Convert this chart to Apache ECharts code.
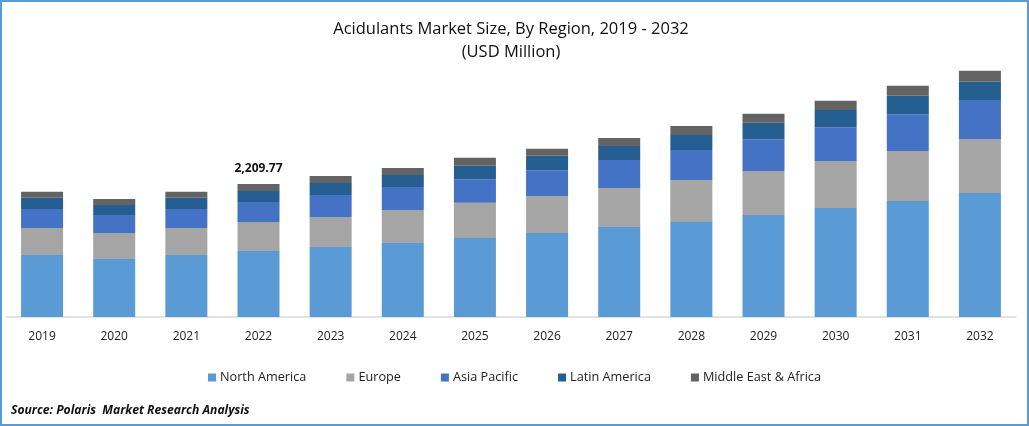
<!DOCTYPE html>
<html>
<head>
<meta charset="utf-8">
<title>Acidulants Market Size</title>
<style>
  html, body { margin: 0; padding: 0; background: #fff; }
  #chart { width: 1029px; height: 426px; }
</style>
<script src="https://cdn.jsdelivr.net/npm/echarts@6/dist/echarts.min.js"></script>
</head>
<body>
<div id="chart"></div>
<script>
// values, USD million
const years = ['2019', '2020', '2021', '2022', '2023', '2024', '2025', '2026', '2027', '2028', '2029', '2030', '2031', '2032'];
const northAmerica = [1030, 964, 1030, 1096.5, 1163, 1230, 1313, 1396, 1495, 1578, 1695, 1811, 1927, 2060];
const europe = [449, 432, 449, 481.8, 498, 548, 582, 615, 648, 698, 731, 781, 831, 897];
const asiaPacific = [316, 299, 316, 332.3, 366, 382, 393, 426, 465, 498, 526, 559, 609, 648];
const latinAmerica = [183, 166, 183, 182.8, 199, 199, 222, 239, 233, 249, 272, 288, 305, 299];
const middleEastAfrica = [100, 100, 100, 116.37, 116, 116, 133, 116, 133, 150, 150, 150, 166, 183];
const labelledYear = '2022';
const labelledTotal = '2,209.77';

const FONT = '"Open Sans", "Noto Sans", sans-serif';

function bar(name, values, color) {
    return {
        name: name,
        type: 'bar',
        stack: 'total',
        barWidth: 42,
        data: values,
        itemStyle: { color: color },
        emphasis: { disabled: true }
    };
}

const series = [
    bar('North America', northAmerica, '#5B9BD5'),
    bar('Europe', europe, '#A5A5A5'),
    bar('Asia Pacific', asiaPacific, '#4472C4'),
    bar('Latin America', latinAmerica, '#255E91'),
    bar('Middle East & Africa', middleEastAfrica, '#636363')
];

// only one total is printed in the original, above 2022
series[4].label = {
    show: true,
    position: 'top',
    distance: 9,
    color: '#111',
    fontFamily: FONT,
    fontSize: 12,
    fontWeight: 'bold',
    formatter: p => (p.name === labelledYear ? labelledTotal : '')
};

const chart = echarts.init(document.getElementById('chart'), null, { renderer: 'canvas' });
chart.setOption({
    animation: false,
    backgroundColor: '#fff',
    title: [
        {
            text: 'Acidulants Market Size, By Region, 2019 - 2032\n(USD Million)',
            left: 506,
            top: 13,
            textAlign: 'center',
            textStyle: { color: '#111', fontFamily: FONT, fontSize: 16.5, fontWeight: 'normal', lineHeight: 23 }
        },
        {
            text: 'Source: Polaris  Market Research Analysis',
            left: 6,
            top: 400,
            textStyle: { color: '#111', fontFamily: FONT, fontSize: 12.15, fontWeight: 'bold', fontStyle: 'italic' }
        }
    ],
    legend: {
        left: 'center',
        top: 366,
        icon: 'rect',
        itemWidth: 8,
        itemHeight: 8,
        itemGap: 40,
        textStyle: { color: '#222', fontFamily: FONT, fontSize: 12.7, padding: [0, 0, 0, -1] },
        data: series.map(s => s.name)
    },
    grid: { left: 6, right: 13, top: 52, bottom: 109 },
    xAxis: {
        type: 'category',
        data: years,
        axisLine: { lineStyle: { color: '#D9D9D9', width: 1.5 } },
        axisTick: { show: false },
        axisLabel: { color: '#222', fontFamily: FONT, fontSize: 12, margin: 14 }
    },
    yAxis: { type: 'value', min: 0, max: 4400, show: false },
    series: series,
    graphic: [{
        type: 'rect',
        silent: true,
        shape: { x: 1, y: 1, width: 1027, height: 424 },
        style: { fill: 'none', stroke: '#5B9BD5', lineWidth: 2 }
    }]
});
</script>
</body>
</html>
